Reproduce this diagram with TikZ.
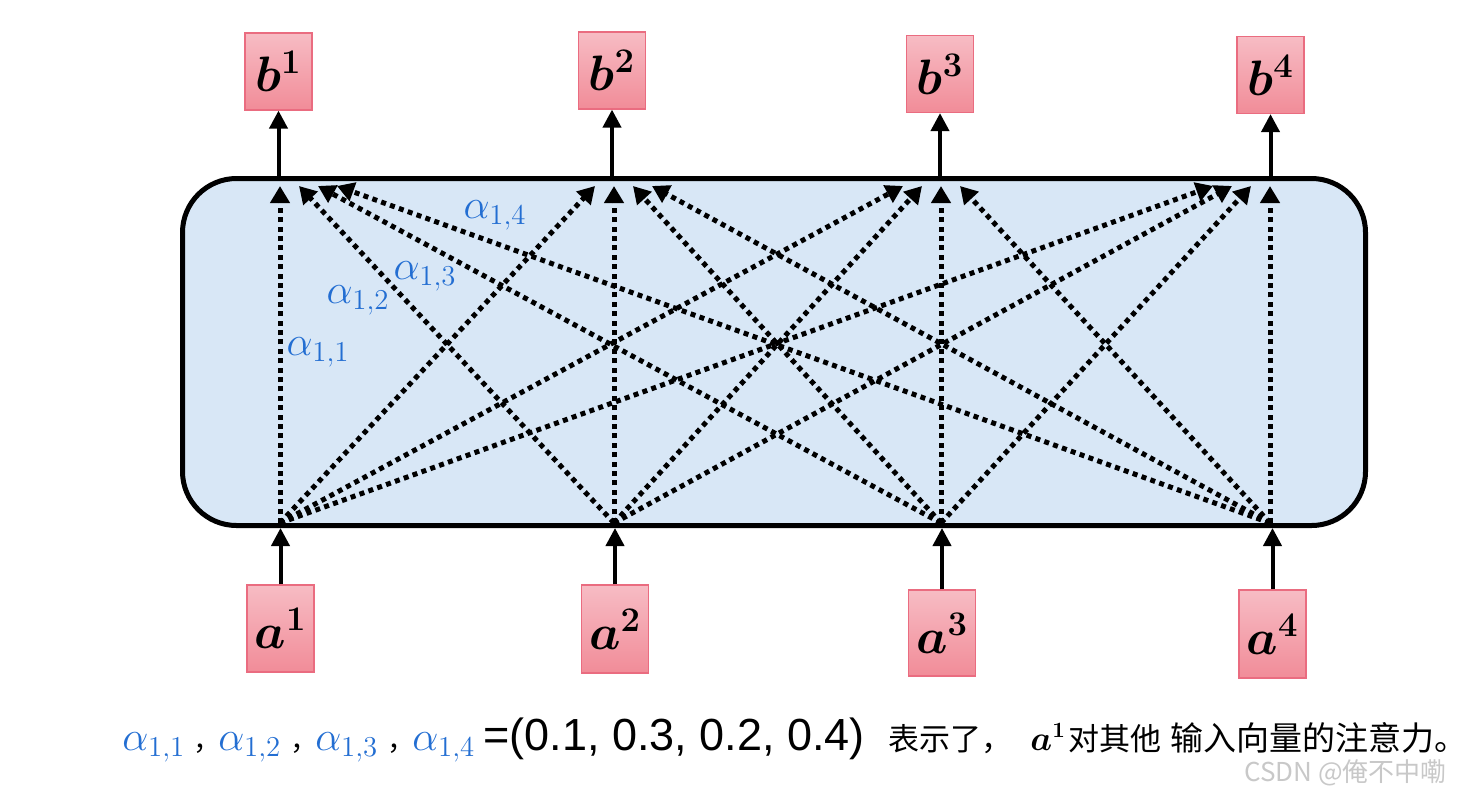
\documentclass[tikz,border=0pt]{standalone}
\usepackage{fontspec}
\newfontfamily\cjk{Noto Sans CJK SC}
\newfontfamily\arial{Liberation Sans}
\usepackage{xcolor}
\definecolor{alphablue}{RGB}{35, 110, 210}
\definecolor{boxblue}{RGB}{216, 231, 246}
\definecolor{pinktop}{RGB}{247, 188, 196}
\definecolor{pinkbot}{RGB}{241, 140, 152}
\definecolor{pinkedge}{RGB}{234, 108, 128}
\definecolor{markgray}{RGB}{200, 200, 200}
\usepackage{tikz}
\usetikzlibrary{arrows.meta, positioning}

\begin{document}
\begin{tikzpicture}[x=0.5pt, y=-0.5pt,
    vecbox/.style={draw=pinkedge, line width=0.6pt, top color=pinktop, bottom color=pinkbot,
        minimum width=33.5pt, inner sep=0pt, font=\fontsize{24}{28}\selectfont\boldmath},
    attnbox/.style={draw, line width=2.5pt, fill=boxblue, rounded corners=27pt,
        minimum width=591.5pt, minimum height=173.5pt},
    vecarrow/.style={line width=2pt, -{Triangle[length=9pt, width=9pt]}},
    attnarrow/.style={line width=2.5pt, dash pattern=on 2.5pt off 2.2pt, -{Triangle[length=8.5pt, width=9.5pt]}},
    weight/.style={text=alphablue, inner sep=0pt, font=\fontsize{21}{24}\selectfont},
    sumtext/.style={anchor=base west, inner sep=0pt}]
    \useasboundingbox (0,0) rectangle (1466,788);
    \clip (0,0) rectangle (1466,788);

    % attention block
    \node[attnbox] (attn) at (774,352) {};

    % output and input vectors
    \node[vecbox, minimum height=38.5pt] (b1) at (278.5,71.5) {$b^1$};
    \node[vecbox, minimum height=38.5pt] (b2) at (612,70.5) {$b^2$};
    \node[vecbox, minimum height=38.5pt] (b3) at (940,74) {$b^3$};
    \node[vecbox, minimum height=38.5pt] (b4) at (1270.5,75) {$b^4$};
    \node[vecbox, minimum height=43.5pt, font=\fontsize{25}{29}\selectfont\boldmath] (a1) at (280.5,628.5) {$a^1$};
    \node[vecbox, minimum height=44pt, font=\fontsize{25}{29}\selectfont\boldmath] (a2) at (615,629) {$a^2$};
    \node[vecbox, minimum height=43pt, font=\fontsize{25}{29}\selectfont\boldmath] (a3) at (942,633) {$a^3$};
    \node[vecbox, minimum height=44pt, font=\fontsize{25}{29}\selectfont\boldmath] (a4) at (1272.5,634) {$a^4$};

    \foreach \k in {1,...,4} {
        \draw[vecarrow] (b\k.south |- attn.north) -- (b\k.south);
        \draw[vecarrow] (a\k.north) -- (a\k.north |- attn.south);
    }

    % every input attends to every output
    \foreach \i/\xi in {1/280, 2/614, 3/941, 4/1270}
        \coordinate (src\i) at (\xi,523);
    \foreach \i in {1,...,4}
        \foreach \j/\xj in {1/280, 2/614, 3/941, 4/1270} {
            \coordinate (tgt\i\j) at ({\xj+19*(\i-\j)},186);
            \draw[attnarrow] (src\i) -- (tgt\i\j);
        }

    \node[weight] (w11) at (318,352) {$\alpha_{1,1}$};
    \node[weight] (w12) at (358,300) {$\alpha_{1,2}$};
    \node[weight] (w13) at (425,276) {$\alpha_{1,3}$};
    \node[weight] (w14) at (495,215) {$\alpha_{1,4}$};

    % summary line
    \foreach \k/\x in {1/122, 2/218, 3/315, 4/412}
        \node[sumtext, text=alphablue, font=\fontsize{21}{25}\selectfont] (s\k) at (\x,750) {$\alpha_{1,\k}$};
    \foreach \k/\x in {1/193, 2/290, 3/387}
        \node[sumtext, font=\cjk\fontsize{14}{17}\selectfont] (c\k) at (\x,750) {，};
    \node[sumtext, font=\arial\fontsize{22.5}{27}\selectfont] (vals) at (483,750) {=(0.1, 0.3, 0.2, 0.4)};
    \node[sumtext, font=\cjk\fontsize{15.5}{19}\selectfont] (zh1) at (888,750) {表示了，};
    \node[sumtext, font=\fontsize{16}{19}\selectfont\boldmath] (sa) at (1030,750) {$a^1$};
    \node[sumtext, font=\cjk\fontsize{15.5}{19}\selectfont] (zh2) at (1068,750) {对其他};
    \node[sumtext, font=\cjk\fontsize{16.5}{19}\selectfont] (zh3) at (1170,750) {输入向量的注意力。};
    \node[sumtext, text=markgray, font=\cjk\fontsize{13}{16}\selectfont] (mark) at (1244,781) {CSDN @俺不中嘞};
\end{tikzpicture}
\end{document}
